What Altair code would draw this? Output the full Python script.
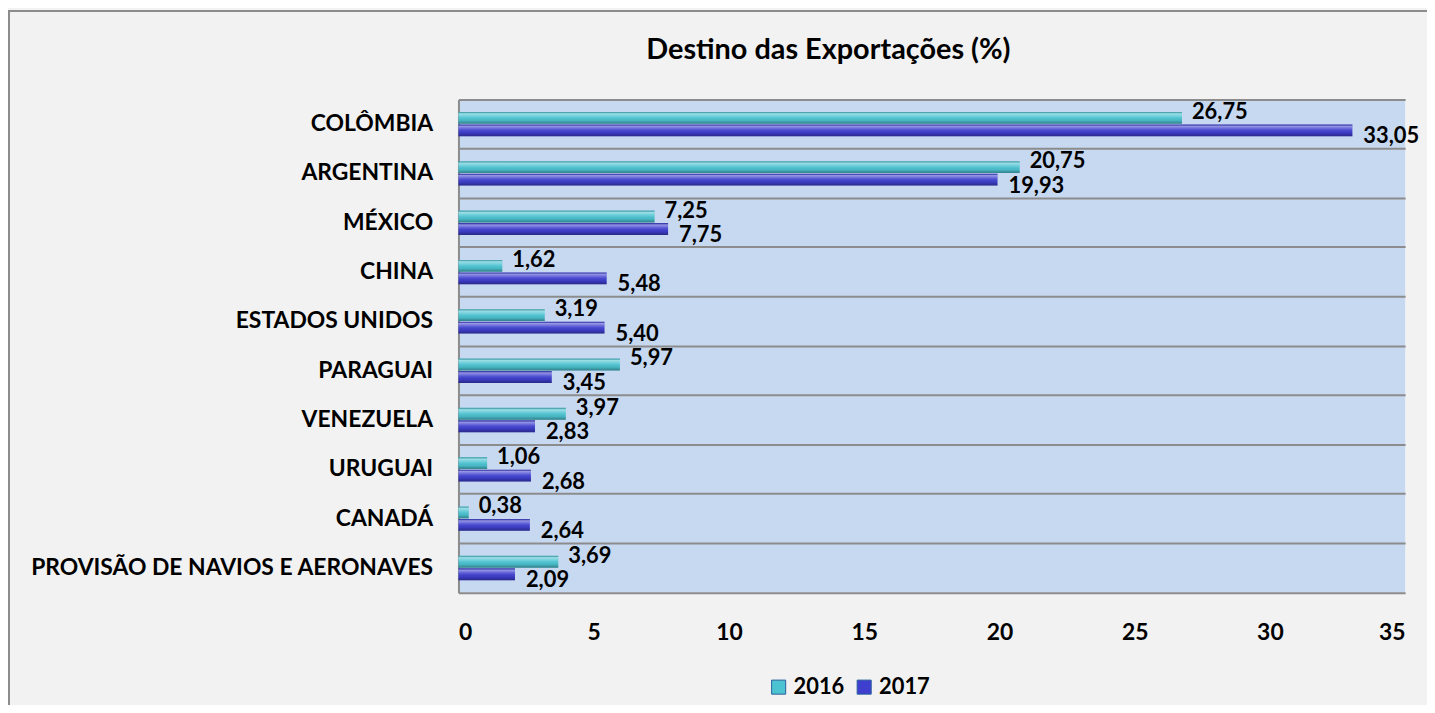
import altair as alt
import pandas as pd

categorias = ["COLÔMBIA", "ARGENTINA", "MÉXICO", "CHINA", "ESTADOS UNIDOS",
              "PARAGUAI", "VENEZUELA", "URUGUAI", "CANADÁ",
              "PROVISÃO DE NAVIOS E AERONAVES"]
v2016 = [26.75, 20.75, 7.25, 1.62, 3.19, 5.97, 3.97, 1.06, 0.38, 3.69]
v2017 = [33.05, 19.93, 7.75, 5.48, 5.40, 3.45, 2.83, 2.68, 2.64, 2.09]
anos = ["2016", "2017"]
x_ticks = [0, 5, 10, 15, 20, 25, 30, 35]
titulo = "Destino das Exportações (%)"

rows = []
for c, a, b in zip(categorias, v2016, v2017):
    rows.append({"pais": c, "ano": "2016", "valor": a, "rotulo": f"{a:.2f}".replace(".", ",")})
    rows.append({"pais": c, "ano": "2017", "valor": b, "rotulo": f"{b:.2f}".replace(".", ",")})
df = pd.DataFrame(rows)

FONT = "Lato"
FS = 23
W, H = 952, 496

base = alt.Chart(df)

y_enc = alt.Y("pais:N", sort=categorias, title=None,
              scale=alt.Scale(paddingInner=0, paddingOuter=0),
              axis=alt.Axis(bandPosition=0, grid=True, gridColor="#8c8c8c", gridWidth=2,
                            domain=True, domainColor="#8c8c8c", domainWidth=2,
                            ticks=False, labelPadding=26, labelFont=FONT,
                            labelFontSize=FS, labelFontWeight="bold", labelColor="black",
                            labelLimit=600))
x_enc = alt.X("valor:Q", title=None,
              scale=alt.Scale(domain=[0, 35], nice=False),
              axis=alt.Axis(values=x_ticks, grid=False, ticks=False,
                            domain=True, domainColor="#8c8c8c", domainWidth=2,
                            labelPadding=29, labelFont=FONT, labelFontSize=FS,
                            labelFontWeight="bold", labelColor="black"))
yoff = alt.YOffset("ano:N", sort=anos,
                   scale=alt.Scale(paddingInner=0.05, paddingOuter=1))

bars = base.mark_bar(stroke=None).encode(
    x=x_enc, y=y_enc, yOffset=yoff,
    color=alt.Color("ano:N", sort=anos, title=None,
                    scale=alt.Scale(domain=anos, range=["#4cc3d1", "#3f3fcf"]),
                    legend=alt.Legend(orient="none", direction="horizontal",
                                      legendX=311, legendY=580,
                                      symbolType="square", symbolSize=200,
                                      symbolStrokeColor="#2a5f9e", symbolStrokeWidth=1,
                                      labelFont=FONT, labelFontSize=22,
                                      labelFontWeight="bold", labelColor="black",
                                      columnPadding=8, labelOffset=4))
)

shade = base.mark_bar(
    color=alt.Gradient(gradient="linear", x1=0, x2=0, y1=0, y2=1,
                       stops=[alt.GradientStop(offset=0, color="rgba(0,0,0,0.15)"),
                              alt.GradientStop(offset=0.15, color="rgba(255,255,255,0.45)"),
                              alt.GradientStop(offset=0.45, color="rgba(255,255,255,0.1)"),
                              alt.GradientStop(offset=0.7, color="rgba(0,0,0,0.05)"),
                              alt.GradientStop(offset=1, color="rgba(0,0,0,0.35)")])
).encode(x="valor:Q", y=alt.Y("pais:N", sort=categorias), yOffset=yoff)

lab16 = base.transform_filter(alt.datum.ano == "2016").mark_text(
    align="left", baseline="middle", dx=10, dy=-6, font=FONT, fontSize=22,
    fontWeight="bold", color="black"
).encode(x="valor:Q", y=alt.Y("pais:N", sort=categorias), yOffset=yoff, text="rotulo:N")

lab17 = base.transform_filter(alt.datum.ano == "2017").mark_text(
    align="left", baseline="middle", dx=11, dy=6, font=FONT, fontSize=22,
    fontWeight="bold", color="black"
).encode(x="valor:Q", y=alt.Y("pais:N", sort=categorias), yOffset=yoff, text="rotulo:N")

one = pd.DataFrame({"t": [titulo]})
frame = alt.Chart(one).mark_rect(
    fill=None, stroke="#8c8c8c", strokeWidth=2
).encode(x=alt.value(-452), x2=alt.value(1500), y=alt.value(-89), y2=alt.value(900))

title_mark = alt.Chart(one).mark_text(
    align="center", baseline="middle", font=FONT, fontSize=29, fontWeight="bold",
    color="black"
).encode(x=alt.value(372), y=alt.value(-50), text="t:N")

chart = alt.layer(frame, bars, shade, lab16, lab17, title_mark).properties(
    width=W, height=H,
    autosize=alt.AutoSizeParams(type="none"),
    padding={"left": 453, "top": 90, "right": 22, "bottom": 111},
    background="#f2f2f2"
).configure_view(fill="#c6d9f1", stroke=None)

chart.save("out.html", embed_options={"renderer": "svg", "actions": False})
